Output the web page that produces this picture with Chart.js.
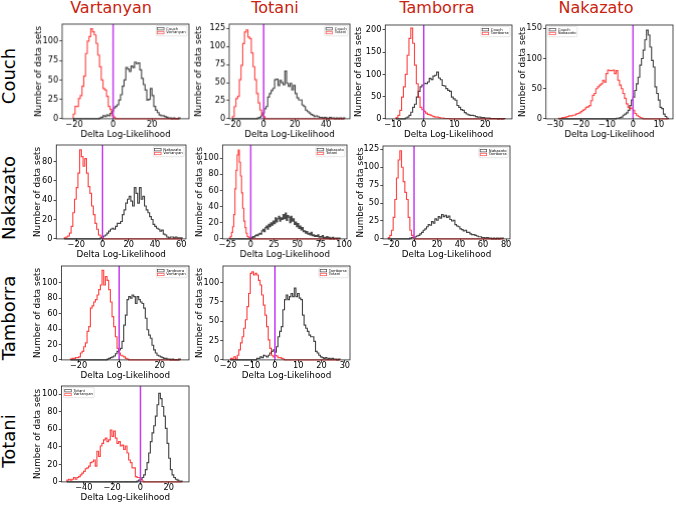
<!DOCTYPE html>
<html><head><meta charset="utf-8">
<script src="https://cdn.jsdelivr.net/npm/chart.js@4.4.1/dist/chart.umd.min.js"></script>
<style>
html,body{margin:0;padding:0;background:#fff;}
body{width:676px;height:505px;position:relative;overflow:hidden;font-family:"DejaVu Sans",sans-serif;}
.ct{position:absolute;top:0;font-size:16px;line-height:16px;color:#c9240f;white-space:nowrap;transform:translateX(-50%);}
.rt{position:absolute;font-size:18px;line-height:18px;color:#000;white-space:nowrap;transform:translate(-50%,-50%) rotate(-90deg);}
.pn{position:absolute;}
</style></head><body>
<script>
// ---------- DATA ----------
const columns = ['Vartanyan', 'Totani', 'Tamborra', 'Nakazato'];
const rows = ['Couch', 'Nakazato', 'Tamborra', 'Totani'];
// panel -> [row index, column index]
const pairs = [[0,0],[0,1],[0,2],[0,3],[1,0],[1,1],[1,2],[2,0],[2,1],[3,0]];

// histogram bin widths and first bin edges (row model = black, column model = red)
const binW      = [0.9, 1.1, 0.6, 0.65, 1.3, 1.2, 1.45, 0.82, 0.7, 1.18];
const rowStart  = [-7.0, -4.0, -6.0, -6.5, -1.8, -0.2, -3.65, -5.96, -7.8, -2.44];
const colStart  = [-20.5, -20.0, -9.0, -28.6, -29.1, -23.0, -22.5, -24.0, -19.0, -52.0];

// counts per bin
const rowCounts1 = [1,2,4,3,5,4,7,10,14,16,18,24,31,42,50,66,64,61,68,66,73,71,72,63,52,44,37,24,25,39,30,16,11,8,5,4,4,3,2,1,1,0,1,0,0,1];
const colCounts1 = [6,16,16,26,30,42,55,84,100,106,116,112,108,97,82,67,50,39,37,29,16,12,4,2];
const rowCounts2 = [1,2,4,8,14,17,30,35,39,42,54,55,46,53,50,47,66,49,45,49,40,46,35,29,26,26,19,17,12,10,8,6,5,3,4,3,2,2,1,2,1,0,2,1,1,0,1,0,1,0,1];
const colCounts2 = [3,17,28,31,54,74,104,120,123,113,111,91,72,54,35,22,12,6,3];
const rowCounts3 = [2,4,8,15,26,33,49,62,72,76,80,79,83,91,88,96,98,105,92,88,75,74,68,64,62,49,45,42,30,26,21,19,14,11,9,8,8,7,5,4,4,3,3,2,2,2,1,1,1,1,0,1,0,1];
const colCounts3 = [3,8,19,49,72,100,143,181,204,170,121,79,49,26,21,17,13,10,9,7,5,4,4,3,2,2,1,1,1];
const rowCounts4 = [1,1,2,3,6,8,10,14,22,31,36,47,58,69,89,100,114,131,147,139,119,97,86,53,42,31,19,17,8,4,1];
const colCounts4 = [1,1,2,2,3,4,5,5,6,6,8,9,10,12,14,16,19,20,22,30,39,42,50,53,56,58,64,61,75,81,80,80,81,75,80,64,56,50,42,34,25,19,17,18,14,9,6,4,2,1];
const rowCounts5 = [1,2,3,4,6,8,10,11,10,13,16,16,18,25,30,37,41,44,39,34,53,47,37,53,41,44,34,30,27,23,20,15,13,11,10,8,9,5,4,2,1,2,2,1,2,1,1,1];
const colCounts5 = [1,2,3,6,13,27,41,53,68,92,85,75,83,68,54,47,34,25,16,10,4,3,1];
const rowCounts6 = [2,1,3,2,4,5,4,6,7,6,10,12,9,14,16,12,18,15,20,17,22,19,26,21,25,28,22,26,24,30,25,32,23,29,27,20,28,22,25,18,21,15,19,13,16,11,14,9,10,7,9,6,7,5,8,4,5,3,4,3,5,2,3,2,4,1,2,1,3,1,2,0,1,2,0,1,1,0,1,1];
const colCounts6 = [1,3,8,15,30,62,85,104,110,95,78,57,38,22,14,7,3,2,1];
const rowCounts7 = [1,2,2,3,4,5,7,9,12,14,17,20,19,24,22,28,26,31,29,34,31,33,30,32,27,25,26,20,18,17,14,13,11,12,9,9,7,6,6,5,4,3,3,2,2,1,2,1,1,0,1,0,1,0,1,1];
const colCounts7 = [2,5,12,30,55,85,110,123,100,80,65,55,30,12,5,2];
const rowCounts8 = [1,2,3,4,5,8,11,13,15,24,45,58,78,82,80,84,82,73,82,78,75,73,67,54,39,32,28,19,13,9,6,5,4,3,2,2,1,1,0,1,0,0,0,1];
const colCounts8 = [1,2,2,3,3,4,9,11,17,22,37,43,67,70,75,78,84,91,97,116,97,108,103,91,75,56,43,30,15,9,6,5,4,2,1];
const rowCounts9 = [2,2,4,3,6,5,4,6,9,11,13,10,17,30,37,43,65,78,84,78,82,86,82,93,82,86,80,78,58,45,41,37,32,30,30,24,11,9,6,4,3,2,3,1,2,1,2,1,1,0,1];
const colCounts9 = [2,1,4,1,6,13,22,30,41,52,69,86,112,114,110,112,110,103,97,84,71,58,43,26,15,6,4,6,5,3,3,2,1];
const rowCounts10 = [1,2,3,5,8,14,22,33,46,56,64,75,88,101,95,86,75,61,44,27,14,8,5,3,2,1,1];
const colCounts10 = [2,3,2,3,5,3,5,6,8,10,12,15,16,18,22,23,25,18,35,29,41,44,48,50,46,48,59,52,58,50,44,46,41,42,37,41,33,25,22,16,16,6,5,5,3,1];
const rowCounts = [rowCounts1,rowCounts2,rowCounts3,rowCounts4,rowCounts5,rowCounts6,rowCounts7,rowCounts8,rowCounts9,rowCounts10];
const colCounts = [colCounts1,colCounts2,colCounts3,colCounts4,colCounts5,colCounts6,colCounts7,colCounts8,colCounts9,colCounts10];

// axis limits and tick labels
const xLim = [[-26.2,39],[-22.1,55.4],[-12.5,28.7],[-33.5,15.4],[-35.2,63.6],[-30.1,103.2],[-27,83.4],[-28.4,34.4],[-22.3,32.2],[-55.8,34.3]];
const yLim = [[0,122],[0,131],[0,211],[0,155.5],[0,97],[0,116.4],[0,129.6],[0,121.6],[0,121.6],[0,109.4]];
const xTicks = [[-20,0,20],[-20,0,20,40],[-10,0,10,20],[-30,-20,-10,0,10],[-20,0,20,40,60],[-25,0,25,50,75,100],[-20,0,20,40,60,80],[-20,0,20],[-20,-10,0,10,20,30],[-40,-20,0,20]];
const yTicks = [[0,25,50,75,100],[0,25,50,75,100,125],[0,50,100,150,200],[0,50,100,150],[0,20,40,60,80],[0,20,40,60,80,100],[0,25,50,75,100,125],[0,20,40,60,80,100],[0,25,50,75,100],[0,20,40,60,80,100]];
const xTitle = 'Delta Log-Likelihood';
const yTitle = 'Number of data sets';

// ---------- LAYOUT (positions / styles) ----------
const frames = [[62,24,189,118.7],[229,24,350,118.7],[385,24.5,512,118.7],[546,24.5,673,118.7],
  [56,145,186,239.3],[222.7,145,346.7,239.3],[382.7,146,510,239.3],
  [61.7,266,189.3,360],[222.7,266,350,360],[61.7,386,189.3,482.3]];
const ylabX = [38.3,198.3,358,522.5,37,199.5,360,37.5,199,37.5];
const legendSide = ['right','right','right','left','right','right','right','right','right','left'];
const colTitleX = [111,275,437,596];
const rowTitleY = [75.5,198,318,441];
const BLACK = 'rgba(0,0,0,0.72)', RED = 'rgba(255,0,0,0.72)', MAG = '#c63cf0';
const TICK_FONT = 8.2, TITLE_FONT = 8.8, PT = 8, PR = 6, XH = 21.1;

Chart.defaults.font.family = '"DejaVu Sans", sans-serif';
Chart.defaults.color = '#000';

columns.forEach((t,i)=>{const d=document.createElement('div');d.className='ct';d.textContent=t;d.style.left=colTitleX[i]+'px';document.body.appendChild(d);});
rows.forEach((t,i)=>{const d=document.createElement('div');d.className='rt';d.textContent=t;d.style.left='9.3px';d.style.top=rowTitleY[i]+'px';document.body.appendChild(d);});

function steps(start, w, counts, lo, hi) {
  const pts = [{x: lo, y: 0}];
  counts.forEach((c, i) => pts.push({x: start + i * w, y: c}));
  pts.push({x: start + counts.length * w, y: 0});
  pts.push({x: hi, y: 0});
  return pts;
}
const fmt = v => (v < 0 ? '\u2212' + Math.abs(v) : String(v));

const framePlugin = {
  id: 'frameBox',
  afterDraw(chart) {
    const {ctx, chartArea: a} = chart;
    ctx.save(); ctx.strokeStyle = '#222'; ctx.lineWidth = 0.8;
    ctx.strokeRect(a.left, a.top, a.right - a.left, a.bottom - a.top);
    ctx.restore();
  }
};
const innerLegend = {
  id: 'innerLegend',
  afterDatasetsDraw(chart, args, opts) {
    const {ctx, chartArea: a} = chart;
    const items = chart.data.datasets.filter(d => d.inLegend);
    ctx.save();
    ctx.font = '3.8px "DejaVu Sans"';
    const tw = Math.max(...items.map(d => ctx.measureText(d.label).width));
    const pad = 1.3, pw = 6.5, ph = 2.4, gap = 2.2, rh = 3.8;
    const bw = pad + pw + gap + tw + pad, bh = pad * 2 + rh * items.length;
    const x = opts.side === 'left' ? a.left + 2 : a.right - 2 - bw;
    const y = a.top + 1.5;
    ctx.fillStyle = 'rgba(255,255,255,0.85)'; ctx.strokeStyle = '#cfcfcf'; ctx.lineWidth = 0.5;
    ctx.beginPath(); ctx.roundRect(x, y, bw, bh, 1); ctx.fill(); ctx.stroke();
    items.forEach((d, i) => {
      const cy = y + pad + rh * (i + 0.5);
      ctx.strokeStyle = d.borderColor; ctx.lineWidth = 0.7;
      ctx.strokeRect(x + pad, cy - ph / 2, pw, ph);
      ctx.fillStyle = '#000'; ctx.textBaseline = 'middle'; ctx.textAlign = 'left';
      ctx.fillText(d.label, x + pad + pw + gap, cy);
    });
    ctx.restore();
  }
};

pairs.forEach(([r, c], k) => {
  const [l, t, rr, b] = frames[k];
  const W = l - ylabX[k] + TITLE_FONT * 0.6;
  const cw = W + (rr - l) + PR, ch = PT + (b - t) + XH;
  const div = document.createElement('div');
  div.className = 'pn';
  div.style.left = (l - W) + 'px'; div.style.top = (t - PT) + 'px';
  div.style.width = cw + 'px'; div.style.height = ch + 'px';
  const cv = document.createElement('canvas');
  cv.style.width = cw + 'px'; cv.style.height = ch + 'px';
  div.appendChild(cv); document.body.appendChild(div);

  const rEnd = rowStart[k] + rowCounts[k].length * binW[k];
  const cEnd = colStart[k] + colCounts[k].length * binW[k];
  const lo = Math.min(rowStart[k], colStart[k]), hi = Math.max(rEnd, cEnd);

  new Chart(cv, {
    type: 'line',
    data: { datasets: [
      { label: rows[r], inLegend: true, data: steps(rowStart[k], binW[k], rowCounts[k], lo, hi),
        borderColor: BLACK, borderWidth: 1.15, stepped: true, pointRadius: 0, order: 3, clip: 4 },
      { label: columns[c], inLegend: true, data: steps(colStart[k], binW[k], colCounts[k], lo, hi),
        borderColor: RED, borderWidth: 1.15, stepped: true, pointRadius: 0, order: 2, clip: 4 },
      { label: 'zero', data: [{x: 0, y: yLim[k][0]}, {x: 0, y: yLim[k][1]}],
        borderColor: MAG, borderWidth: 1.5, pointRadius: 0, order: 1 }
    ]},
    options: {
      responsive: false, animation: false, events: [],
      layout: { padding: { left: 0, top: PT, right: PR, bottom: 0 } },
      plugins: { legend: { display: false }, tooltip: { enabled: false }, innerLegend: { side: legendSide[k] } },
      scales: {
        x: { type: 'linear', min: xLim[k][0], max: xLim[k][1],
          afterBuildTicks: s => { s.ticks = xTicks[k].map(v => ({ value: v })); },
          afterFit: s => { s.height = XH; },
          grid: { drawOnChartArea: false, drawTicks: true, tickLength: 2.7, color: '#222', lineWidth: 0.8 },
          border: { display: false },
          ticks: { font: { size: TICK_FONT }, color: '#000', padding: -1.9, maxRotation: 0, autoSkip: false, callback: v => fmt(v) },
          title: { display: true, text: xTitle, font: { size: TITLE_FONT }, color: '#000', padding: 0 } },
        y: { type: 'linear', min: yLim[k][0], max: yLim[k][1],
          afterBuildTicks: s => { s.ticks = yTicks[k].map(v => ({ value: v })); },
          afterFit: s => { s.width = W; },
          grid: { drawOnChartArea: false, drawTicks: true, tickLength: 2.7, color: '#222', lineWidth: 0.8 },
          border: { display: false },
          ticks: { font: { size: TICK_FONT }, color: '#000', padding: 1.1, autoSkip: false, callback: v => fmt(v) },
          title: { display: true, text: yTitle, font: { size: TITLE_FONT }, color: '#000', padding: 0 } }
      }
    },
    plugins: [framePlugin, innerLegend]
  });
});
</script>
</body></html>
